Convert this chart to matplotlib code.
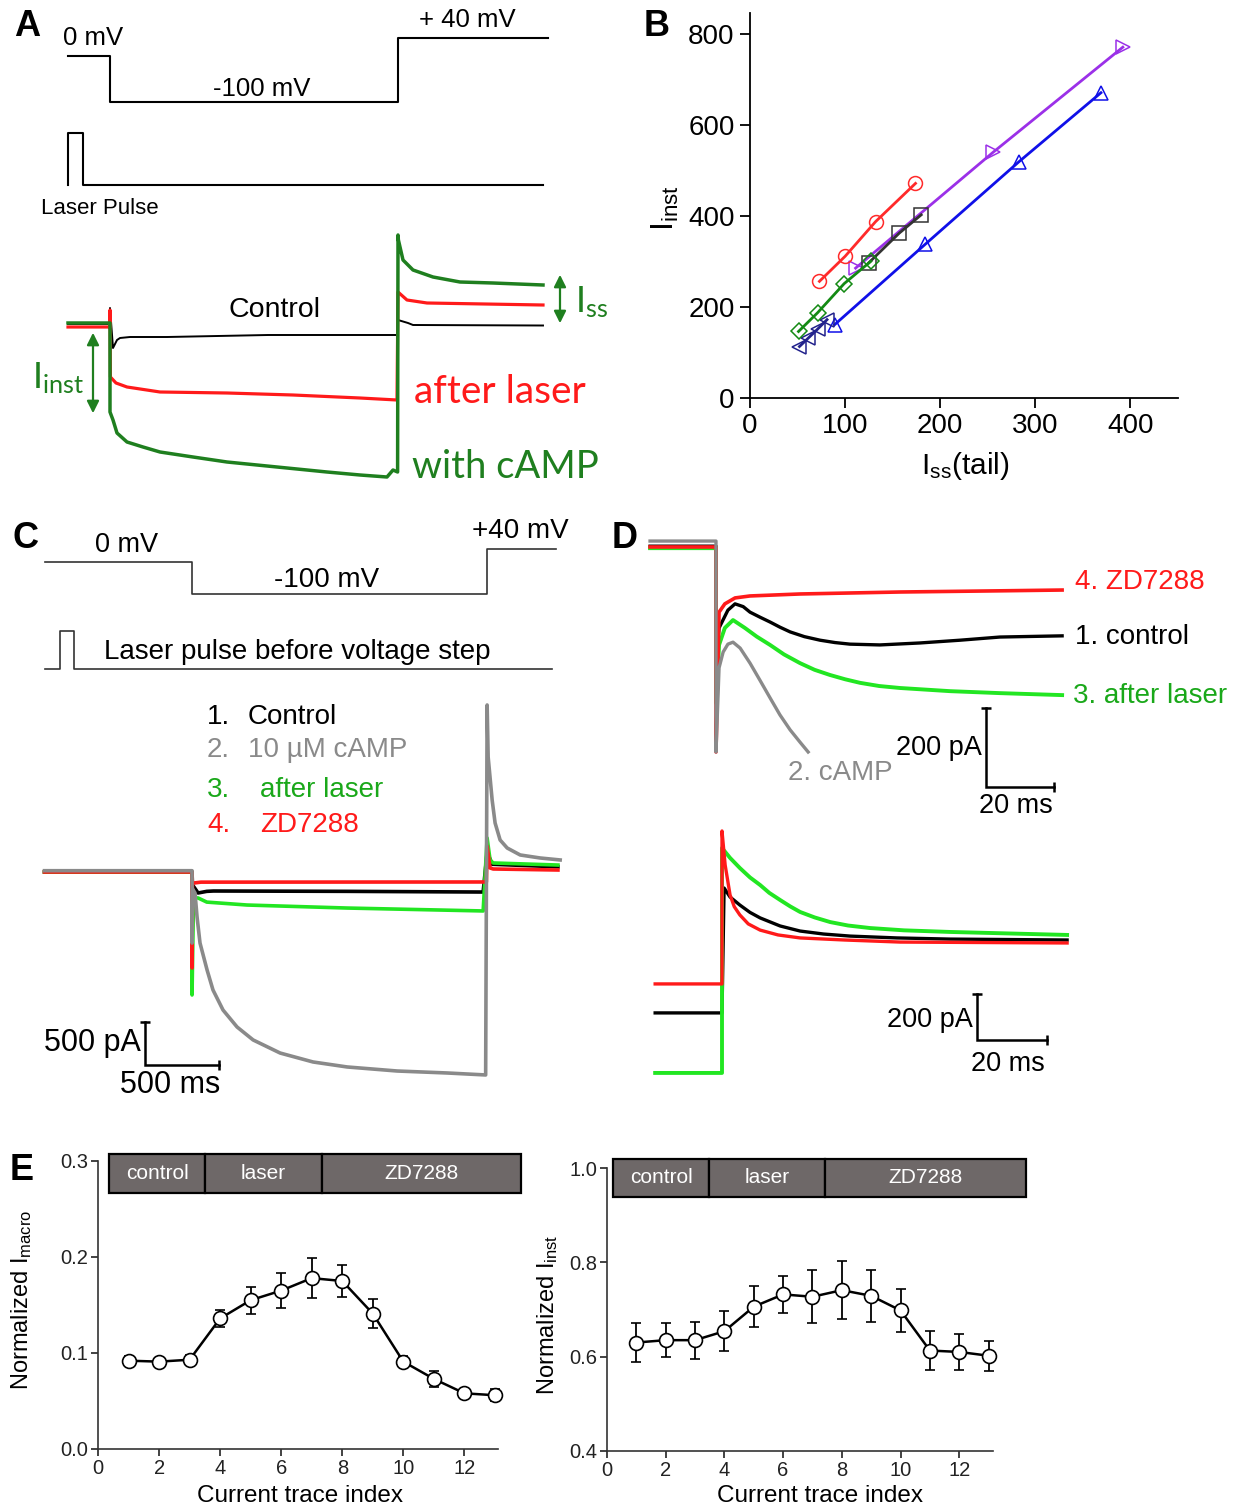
import matplotlib
matplotlib.use('Agg')
import matplotlib.pyplot as plt
from matplotlib.patches import Rectangle

W, H = 1237, 1510
plt.rcParams['font.family'] = ['Liberation Sans', 'DejaVu Sans']
plt.rcParams['mathtext.fontset'] = 'custom'
plt.rcParams['mathtext.rm'] = 'Liberation Sans'
plt.rcParams['mathtext.it'] = 'Liberation Sans:italic'
plt.rcParams['mathtext.sf'] = 'Lato'

# ======================= DATA =======================
# ---- Panel A (time ms, voltage mV, current pA arbitrary scale) ----
A_prot_t = [0, 210, 210, 1650, 1650, 2400]
A_prot_v = [0, 0, -100, -100, 40, 40]
A_laser_t = [0, 0, 75, 75, 2375]
A_laser_y = [0, 1, 1, 0, 0]
A_ctrl_t = [0, 210, 210, 225, 245, 260, 310, 495, 1000, 1648, 1650, 1700, 1725, 2375]
A_ctrl_i = [10, 10, 170, -230, -150, -130, -120, -120, -100, -100, 50, 20, 0, -5]
A_red_t = [0, 210, 210, 212, 240, 295, 460, 795, 1125, 1460, 1645, 1650, 1695, 1795, 2375]
A_red_i = [-20, -20, 150, -520, -580, -620, -670, -680, -700, -730, -750, 330, 250, 220, 200]
A_camp_t = [0, 210, 210, 225, 245, 295, 375, 460, 625, 795, 1045, 1295, 1460, 1595, 1625, 1648,
            1650, 1652, 1675, 1725, 1825, 1960, 2125, 2375]
A_camp_i = [20, 20, -870, -950, -1080, -1170, -1220, -1270, -1320, -1370, -1420, -1470, -1500,
            -1520, -1450, -1470, 900, 850, 650, 550, 480, 430, 420, 400]

# ---- Panel B ----
B_red_x = [73, 100, 132, 174];       B_red_y = [256, 311, 387, 471]
B_black_x = [125, 157, 180];         B_black_y = [297, 362, 402]
B_purple_x = [111, 256, 392];        B_purple_y = [285, 540, 770]
B_blue_x = [89, 184, 283, 369];      B_blue_y = [161, 337, 519, 670]
B_green_x = [51, 71, 99, 127];       B_green_y = [146, 187, 251, 300]
B_navy_x = [52, 61, 71, 81];         B_navy_y = [113, 131, 151, 172]

# ---- Panel C (time ms, current pA) ----
C_prot_t = [0, 1000, 1000, 3000, 3000, 3468]
C_prot_v = [0, 0, -100, -100, 40, 40]
C_laser_t = [0, 105, 105, 200, 200, 3440]
C_laser_y = [0, 0, 1, 1, 0, 0]
C_ctrl_t = [0, 1000, 1003, 1041, 1100, 1145, 2051, 2973, 3000, 3034, 3480]
C_ctrl_i = [0, 0, -150, -244, -225, -221, -225, -233, 230, 90, 60]
C_camp_t = [0, 1000, 1000, 1005, 1020, 1034, 1054, 1102, 1142, 1210, 1305, 1414, 1597, 1820, 2051,
            2390, 2729, 2990, 3000, 3007, 3034, 3054, 3088, 3136, 3224, 3359, 3495]
C_camp_i = [15, 15, -826, -200, -244, -523, -826, -1140, -1372, -1605, -1802, -1953, -2105, -2209,
            -2267, -2314, -2337, -2360, 1942, 1337, 837, 570, 372, 279, 198, 163, 140]
C_laser_tr_t = [0, 1000, 1000, 1010, 1041, 1100, 1373, 2051, 2973, 3000, 3020, 3041, 3480]
C_laser_tr_i = [0, 0, -1430, -300, -302, -350, -384, -419, -453, 395, 140, 105, 81]
C_zd_t = [0, 1000, 1000, 1003, 1060, 2995, 3000, 3020, 3041, 3480]
C_zd_i = [0, 0, -1116, -130, -118, -116, 300, 47, 35, 23]

# ---- Panel D upper (time ms from step, current pA) ----
D1_camp_t = [-19.4, 0, 0, 0.9, 2.1, 3.5, 5.0, 7.1, 10.0, 12.9, 15.9, 18.8, 21.8, 24.7, 27.1]
D1_camp_i = [10, 10, -524, -311, -271, -251, -246, -261, -299, -342, -387, -430, -468, -499, -524]
D1_zd_t = [-19.4, 0, 0, 0.9, 2.6, 5.6, 10.0, 24.7, 54.1, 83.5, 101.8]
D1_zd_i = [-5, -5, -524, -170, -149, -134, -129, -124, -119, -116, -114]
D1_ctrl_t = [-19.4, 0, 0, 0.9, 3.5, 5.6, 8.0, 10.0, 13.0, 15.9, 18.8, 21.8, 26.0, 30.6, 35.0, 39.4,
             48.2, 60.0, 71.8, 83.5, 101.8]
D1_ctrl_i = [-3, -3, -300, -210, -165, -149, -156, -170, -183, -195, -208, -220, -232, -241, -247,
             -251, -253, -248, -241, -233, -230]
D1_laser_t = [-19.4, 0, 0, 0.9, 2.6, 5.0, 8.5, 12.0, 15.9, 20.0, 24.7, 29.0, 33.5, 38.0, 42.4, 48.0,
              54.1, 68.8, 83.5, 101.8]
D1_laser_i = [-8, -8, -400, -253, -210, -190, -210, -232, -253, -277, -299, -316, -329, -340, -349,
              -357, -362, -370, -375, -380]

# ---- Panel D lower (tail currents) ----
D2_zd_t = [-19.1, 0, 0, 0.9, 2.3, 3.5, 5.1, 7.5, 10.9, 16.0, 22.3, 35.0, 50.9, 98.6]
D2_zd_i = [-191, -191, 474, 326, 196, 145, 109, 70, 43, 22, 9, 0, -9, -13]
D2_ctrl_t = [-19.1, 0, 0.6, 2.3, 5.1, 8.0, 10.9, 16.6, 22.3, 29.0, 36.6, 50.0, 65.1, 98.6]
D2_ctrl_i = [-317, -317, 226, 187, 152, 120, 96, 61, 39, 26, 17, 9, 4, 0]
D2_laser_t = [-19.1, 0, 0, 2.3, 5.1, 8.0, 10.9, 13.5, 16.6, 19.5, 22.3, 26.5, 30.9, 36.0, 42.3, 52.0,
              65.1, 98.6]
D2_laser_i = [-578, -578, 400, 357, 313, 272, 239, 205, 174, 146, 122, 98, 78, 63, 52, 42, 35, 22]

# ---- Panel E ----
E_index = [1, 2, 3, 4, 5, 6, 7, 8, 9, 10, 11, 12, 13]
E1_mean = [0.092, 0.091, 0.093, 0.136, 0.155, 0.165, 0.178, 0.175, 0.141, 0.091, 0.073, 0.058, 0.056]
E1_err = [0.005, 0.004, 0.005, 0.009, 0.014, 0.018, 0.021, 0.017, 0.015, 0.006, 0.008, 0.003, 0.006]
E2_mean = [0.630, 0.635, 0.635, 0.654, 0.706, 0.732, 0.727, 0.741, 0.729, 0.698, 0.613, 0.610, 0.602]
E2_err = [0.042, 0.036, 0.039, 0.043, 0.043, 0.039, 0.056, 0.061, 0.055, 0.045, 0.041, 0.039, 0.032]
E_phases = ['control', 'laser', 'ZD7288']

# ======================= STYLE =======================
RED = '#ff1a1a'
DGREEN = '#1f7f1f'
BGREEN = '#22e622'
TGREEN = '#1aa81a'
GRAY = '#8a8a8a'

fig = plt.figure(figsize=(W / 100, H / 100), dpi=100)
fig.patch.set_facecolor('white')


def overlay(x_px, y_px, xlim, ylim):
    """Invisible axes whose data limits map onto the given pixel positions."""
    left = x_px[0] / W
    width = (x_px[1] - x_px[0]) / W
    bottom = 1 - y_px[0] / H
    height = (y_px[0] - y_px[1]) / H
    ax = fig.add_axes([left, bottom, width, height])
    ax.set_xlim(xlim)
    ax.set_ylim(ylim)
    ax.axis('off')
    ax.patch.set_alpha(0)
    return ax


def T(x, y, s, size, ha='center', va='center', **kw):
    fig.text(x / W, 1 - y / H, s, fontsize=size, ha=ha, va=va, **kw)


def arrow2(x, y0, y1, color):
    fig.add_artist(matplotlib.patches.FancyArrowPatch(
        (x / W, 1 - y0 / H), (x / W, 1 - y1 / H), transform=fig.transFigure,
        arrowstyle='<|-|>', mutation_scale=18, color=color, lw=1.6))


def scalebar(ax, t0, i0, dt, di, lw=1.8):
    ax.plot([t0, t0, t0 + dt], [i0 + di, i0, i0], color='black', lw=lw, clip_on=False,
            solid_joinstyle='miter')
    ax.plot([t0], [i0 + di], marker='_', ms=7, color='black', mew=lw, clip_on=False)
    ax.plot([t0 + dt], [i0], marker='|', ms=7, color='black', mew=lw, clip_on=False)


# ======================= PANEL A =======================
axAv = overlay((68, 548), (102, 56), (0, 2400), (-100, 0))
axAv.plot(A_prot_t, A_prot_v, color='black', lw=1.5, clip_on=False)
axAl = overlay((68, 548), (185, 133), (0, 2400), (0, 1))
axAl.plot(A_laser_t, A_laser_y, color='black', lw=1.5, clip_on=False)
axAi = overlay((68, 548), (425, 325), (0, 2400), (-1000, 0))
axAi.plot(A_ctrl_t, A_ctrl_i, color='black', lw=1.4, clip_on=False)
axAi.plot(A_red_t, A_red_i, color=RED, lw=2.3, clip_on=False)
axAi.plot(A_camp_t, A_camp_i, color=DGREEN, lw=2.5, clip_on=False)

T(27, 27, 'A', 26, weight='bold')
T(93, 38, '0 mV', 18.5)
T(262, 89, '-100 mV', 18.5)
T(467, 20, '+ 40 mV', 18.5)
T(100, 208, 'Laser Pulse', 16)
T(274, 310, 'Control', 20.5)
T(500, 392, 'after laser', 28, color=RED, family='Lato')
T(505, 467, 'with cAMP', 27.5, color=DGREEN, family='Lato')
T(58, 378, r'$\mathsf{I_{inst}}$', 26, color=DGREEN)
T(592, 302, r'$\mathsf{I_{ss}}$', 26, color=DGREEN)
arrow2(93, 330, 416, DGREEN)
arrow2(560, 272, 326, DGREEN)

# ======================= PANEL B =======================
axB = overlay((750, 1178), (398, 13), (0, 450), (0, 845))
axB.axis('on')
for s in ['top', 'right']:
    axB.spines[s].set_visible(False)
for s in ['left', 'bottom']:
    axB.spines[s].set_linewidth(1.3)
axB.set_xticks([0, 100, 200, 300, 400])
axB.set_yticks([0, 200, 400, 600, 800])
axB.tick_params(direction='out', length=7, width=1.3, labelsize=20, pad=4)
mk = dict(mfc='none', ms=10, mew=1.1, lw=2, clip_on=False)
axB.plot(B_blue_x, B_blue_y, '^-', color='#1010e8', **mk)
axB.plot(B_purple_x, B_purple_y, '>-', color='#9b30e8', **mk)
axB.plot(B_black_x, B_black_y, 's-', color='#333333', **mk)
axB.plot(B_red_x, B_red_y, 'o-', color='#ff2a2a', **mk)
axB.plot(B_navy_x, B_navy_y, '<-', color='#22228c', **mk)
axB.plot(B_green_x, B_green_y, 'D-', color='#138a13', mfc='none', ms=8, mew=1.1, lw=2, clip_on=False)
T(657, 27, 'B', 26, weight='bold')
T(665, 208, r'$\mathrm{I_{inst}}$', 23, rotation=90)
T(965, 466, r'$\mathrm{I_{ss}}$(tail)', 21.5)

# ======================= PANEL C =======================
Cx = (44.5, 560.9)
axCv = overlay(Cx, (594, 562), (0, 3500), (-100, 0))
axCv.plot(C_prot_t, C_prot_v, color='#333333', lw=1.2, clip_on=False)
axCl = overlay(Cx, (669, 631), (0, 3500), (0, 1))
axCl.plot(C_laser_t, C_laser_y, color='#333333', lw=1.2, clip_on=False)
axCi = overlay(Cx, (1044, 872), (0, 3500), (-2000, 0))
axCi.plot(C_ctrl_t, C_ctrl_i, color='black', lw=2.6, clip_on=False)
axCi.plot(C_laser_tr_t, C_laser_tr_i, color=BGREEN, lw=2.6, clip_on=False)
axCi.plot(C_zd_t, C_zd_i, color=RED, lw=2.6, clip_on=False)
axCi.plot(C_camp_t, C_camp_i, color=GRAY, lw=2.6, clip_on=False)
scalebar(axCi, 681, -2244, 500, 500)

T(25, 538, 'C', 26, weight='bold')
T(127, 545, '0 mV', 19.5)
T(327, 580, '-100 mV', 20)
T(520, 531, '+40 mV', 20)
T(104, 652, 'Laser pulse before voltage step', 20, ha='left')
T(207, 717, '1.', 20, ha='left')
T(248, 717, 'Control', 20, ha='left')
T(207, 750, '2.', 20, ha='left', color=GRAY)
T(248, 750, '10 \u00b5M cAMP', 20, ha='left', color=GRAY)
T(207, 790, '3.', 20, ha='left', color=TGREEN)
T(260, 790, 'after laser', 20, ha='left', color=TGREEN)
T(207, 825, '4.', 20, ha='left', color=RED)
T(260, 825, 'ZD7288', 20, ha='left', color=RED)
T(141, 1043, '500 pA', 22, ha='right')
T(170, 1085, '500 ms', 22)

# ======================= PANEL D =======================
axD1 = overlay((648, 1056), (782, 545), (-20, 100), (-600, 0))
axD1.plot(D1_ctrl_t, D1_ctrl_i, color='black', lw=2.4, clip_on=False)
axD1.plot(D1_laser_t, D1_laser_i, color=BGREEN, lw=2.8, clip_on=False)
axD1.plot(D1_zd_t, D1_zd_i, color=RED, lw=2.6, clip_on=False)
axD1.plot(D1_camp_t, D1_camp_i, color=GRAY, lw=2.4, clip_on=False)
scalebar(axD1, 79.4, -613, 20, 200)

axD2 = overlay((652, 1072), (1078, 940), (-20, 100), (-600, 0))
axD2.plot(D2_ctrl_t, D2_ctrl_i, color='black', lw=2.4, clip_on=False)
axD2.plot(D2_laser_t, D2_laser_i, color=BGREEN, lw=2.8, clip_on=False)
axD2.plot(D2_zd_t, D2_zd_i, color=RED, lw=2.4, clip_on=False)
scalebar(axD2, 72.9, -435, 20, 200)

T(625, 538, 'D', 26, weight='bold')
T(1075, 582, '4. ZD7288', 20, ha='left', color=RED)
T(1075, 637, '1. control', 20, ha='left')
T(1073, 696, '3. after laser', 20, ha='left', color=TGREEN)
T(788, 773, '2. cAMP', 20, ha='left', color=GRAY)
T(982, 748, '200 pA', 19.5, ha='right')
T(1016, 806, '20 ms', 19.5)
T(973, 1020, '200 pA', 19.5, ha='right')
T(1008, 1064, '20 ms', 19.5)

# ======================= PANEL E =======================
def panelE(xpx, ypx, xlim, ylim, yticks, mean, err, edges, box_y, ylabel, ylab_x, ylab_y, xlab_x):
    ax = overlay(xpx, ypx, xlim, ylim)
    ax.axis('on')
    for s in ['top', 'right']:
        ax.spines[s].set_visible(False)
    for s in ['left', 'bottom']:
        ax.spines[s].set_linewidth(1.2)
        ax.spines[s].set_color('#333333')
    ax.set_xticks([0, 2, 4, 6, 8, 10, 12])
    ax.set_yticks(yticks)
    ax.set_yticklabels(['%.1f' % v for v in yticks])
    ax.tick_params(direction='out', length=5, width=1.2, labelsize=14.5, pad=2, colors='#222222')
    ax.errorbar(E_index, mean, yerr=err, fmt='-o', color='black', lw=1.8, ms=10, mfc='white',
                mec='black', mew=1.2, elinewidth=1.3, capsize=3.5, capthick=1.3, clip_on=False, zorder=3)
    for k, lab in enumerate(E_phases):
        r = Rectangle((edges[k], box_y[0]), edges[k + 1] - edges[k], box_y[1] - box_y[0],
                      facecolor='#6e6868', edgecolor='black', lw=1.6, clip_on=False,
                      transform=ax.transData, zorder=4)
        ax.add_patch(r)
        ax.text((edges[k] + edges[k + 1]) / 2, (box_y[0] + box_y[1]) / 2, lab, color='white',
                fontsize=15, ha='center', va='center', zorder=5, clip_on=False)
    T(ylab_x, ylab_y, ylabel, 17, rotation=90)
    T(xlab_x, 1496, 'Current trace index', 17.5)
    return ax


panelE((98, 498), (1449, 1161), (0, 13.1), (0, 0.3), [0.0, 0.1, 0.2, 0.3], E1_mean, E1_err,
       [0.37, 3.52, 7.33, 13.85], (0.267, 0.307), r'Normalized $\mathrm{I_{macro}}$', 22, 1300, 300)
panelE((607, 993), (1451, 1168), (0, 13.15), (0.4, 1.0), [0.4, 0.6, 0.8, 1.0], E2_mean, E2_err,
       [0.2, 3.49, 7.44, 14.29], (0.938, 1.02), r'Normalized $\mathrm{I_{inst}}$', 548, 1315, 820)
T(22, 1170, 'E', 26, weight='bold')

fig.savefig('out.png', dpi=100)
